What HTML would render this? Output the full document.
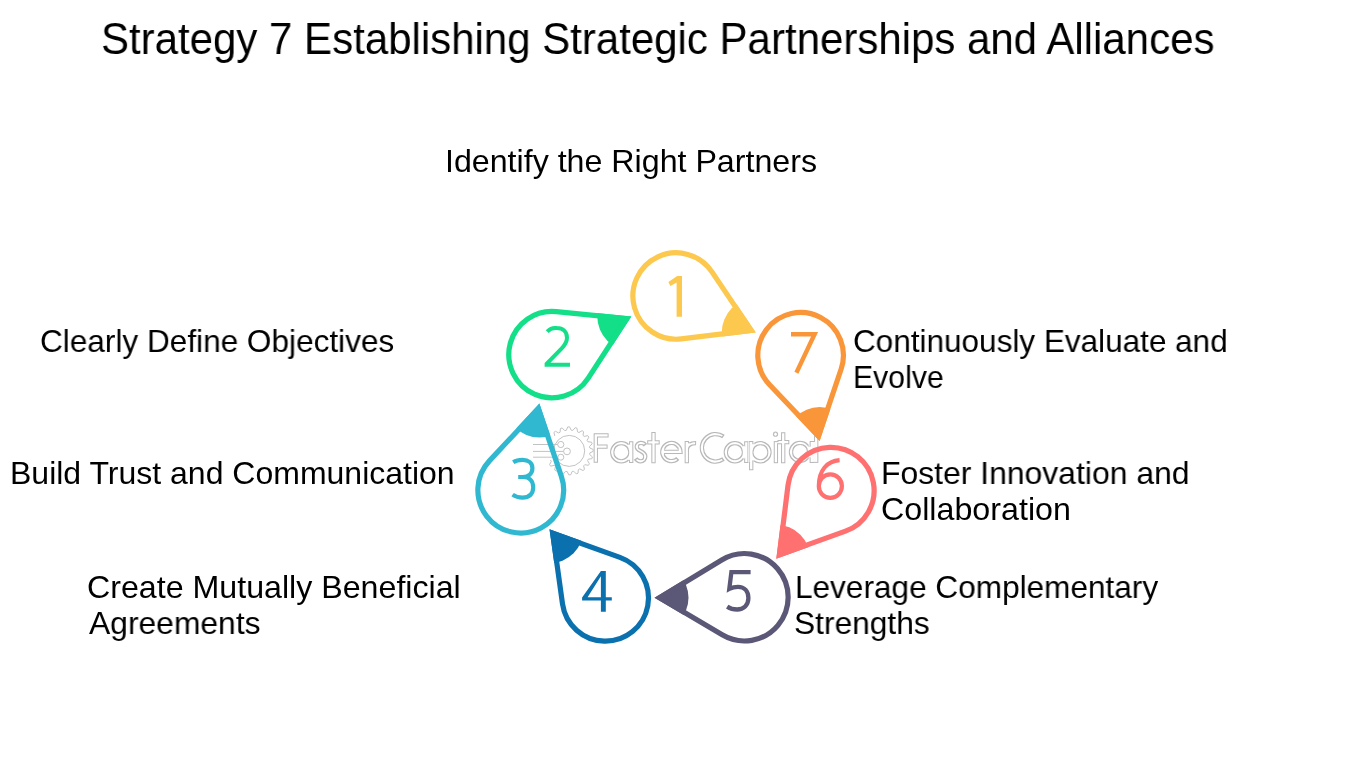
<!DOCTYPE html>
<html><head><meta charset="utf-8">
<style>
html,body{margin:0;padding:0;background:#fff;}
.t,.lb{will-change:transform;-webkit-font-smoothing:antialiased;}
body{width:1350px;height:759px;position:relative;overflow:hidden;font-family:"Liberation Sans",sans-serif;}
.t{position:absolute;left:101.0px;top:16.1px;font-size:45px;line-height:45px;white-space:nowrap;color:#000;transform-origin:0 0;transform:scaleX(0.9332);}
.lb{position:absolute;font-size:32px;line-height:36.768px;white-space:nowrap;color:#000;transform-origin:0 0;}
svg{position:absolute;left:0;top:0;}
</style></head><body>
<div class="t">Strategy 7 Establishing Strategic Partnerships and Alliances</div>
<div class="lb" style="left:444.98px;top:143.04px;transform:scaleX(1.0055)">Identify the Right Partners</div>
<div class="lb" style="left:40.43px;top:323.04px;transform:scaleX(0.9860)">Clearly Define Objectives</div>
<div class="lb" style="left:9.70px;top:455.04px;transform:scaleX(0.9989)">Build Trust and Communication</div>
<div class="lb" style="left:87.29px;top:568.74px;transform:scaleX(1.0054)">Create Mutually Beneficial</div>
<div class="lb" style="left:89.00px;top:604.84px;transform:scaleX(0.9942)">Agreements</div>
<div class="lb" style="left:794.64px;top:568.74px;transform:scaleX(0.9863)">Leverage Complementary</div>
<div class="lb" style="left:794.32px;top:604.74px;transform:scaleX(0.9903)">Strengths</div>
<div class="lb" style="left:880.91px;top:454.84px;transform:scaleX(0.9967)">Foster Innovation and</div>
<div class="lb" style="left:881.49px;top:490.84px;transform:scaleX(1.0070)">Collaboration</div>
<div class="lb" style="left:853.03px;top:322.74px;transform:scaleX(0.9841)">Continuously Evaluate and</div>
<div class="lb" style="left:852.67px;top:358.74px;transform:scaleX(0.9446)">Evolve</div>
<svg width="1350" height="759" viewBox="0 0 1350 759">
<defs><filter id="ol" x="-5%" y="-20%" width="110%" height="140%"><feMorphology operator="erode" radius="1" in="SourceAlpha" result="e"/><feComposite in="SourceGraphic" in2="e" operator="out"/></filter></defs>
<g filter="url(#ol)">
<g fill="none" stroke="#b8b8b8" stroke-width="4.3" stroke-linecap="butt">
<path d="M595.8,433.4 V462.8 M593.9,435.3 H608.6 M595.8,446.6 H607.6"/>
<path d="M630.4,452.2 A9.1,9.1 0 1 1 612.1999999999999,452.2 A9.1,9.1 0 1 1 630.4,452.2 M631.2,441.2 V463"/>
<path d="M645.4,445.2 C644.2,443.6 642.6,442.9 640.8,442.9 C638.3,442.9 636.7,444.6 636.7,446.7 C636.7,451.6 645.3,450.6 645.3,456.3 C645.3,459.3 643.2,461.3 640.6,461.3 C638.6,461.3 636.8,460.3 635.6,458.6"/>
<path d="M653.5,432.1 V463.2 M647.2,442.3 H659.7"/>
<path d="M662.3,451.8 H680.5 A9.1,9.1 0 1 0 677.8,458.5"/>
<path d="M686.8,441 V463.2 M686.8,449.5 C687.4,445 690.8,443 696.1,443.1"/>
<path d="M723.49,459.11 A13.75,13.75 0 1 1 723.49,436.59"/>
<path d="M744.0,452.2 A9.1,9.1 0 1 1 725.8,452.2 A9.1,9.1 0 1 1 744.0,452.2 M746.3,441.2 V463"/>
<path d="M769.5,452.2 A9.1,9.1 0 1 1 751.3,452.2 A9.1,9.1 0 1 1 769.5,452.2 M751.2,441 V470.3"/>
<path d="M775.9,441.1 V463.2"/>
<path d="M783.2,432.2 V463.2 M777.5,442.2 H789.3"/>
<path d="M809.15,451.9 A9.1,9.1 0 1 1 790.9499999999999,451.9 A9.1,9.1 0 1 1 809.15,451.9 M811.8,441 V463"/>
<path d="M816.2,432.2 V462.9"/>
</g>
<circle cx="775.5" cy="434.2" r="2.6" fill="#bdbdbd"/>
</g>
<g fill="none" stroke="#c2c2c2" stroke-width="1">
<path d="M554.75,435.94 L553.93,432.38 L555.43,431.24 L558.64,432.98 L560.08,432.21 L560.40,428.57 L562.18,427.95 L564.70,430.59 L566.31,430.30 L567.73,426.94 L569.62,426.90 L571.19,430.20 L572.81,430.42 L575.21,427.66 L577.01,428.21 L577.49,431.83 L578.97,432.53 L582.10,430.66 L583.64,431.73 L582.98,435.32 L584.16,436.45 L587.72,435.63 L588.86,437.13 L587.12,440.34 L587.89,441.78 L591.53,442.10 L592.15,443.88 L589.51,446.40 L589.80,448.01 L593.16,449.43 L593.20,451.32 L589.90,452.89 L589.68,454.51 L592.44,456.91 L591.89,458.71 L588.27,459.19 L587.57,460.67 L589.44,463.80 L588.37,465.34 L584.78,464.68 L583.65,465.86 L584.47,469.42 L582.97,470.56 L579.76,468.82 L578.32,469.59 L578.00,473.23 L576.22,473.85 L573.70,471.21 L572.09,471.50 L570.67,474.86 L568.78,474.90 L567.21,471.60 L565.59,471.38 L563.19,474.14 L561.39,473.59 L560.91,469.97 L559.43,469.27 L556.30,471.14 L554.76,470.07 L555.42,466.48 L554.24,465.35 L550.68,466.17 L549.54,464.67 L551.28,461.46 L550.51,460.02"/>
<circle cx="569.2" cy="450.9" r="15.5"/>
<circle cx="560.8" cy="444.5" r="3.1"/><circle cx="567" cy="451.4" r="3.4"/><circle cx="560.8" cy="457.2" r="3"/>
<path d="M533,444.5 H557.7 M533,451.4 H563.6 M533,457.2 H557.8"/>
</g>
<clipPath id="c1"><path d="M755.75,332.40 L681.66,341.46 A45.80,45.80 0 1 1 714.11,270.45 Z"/></clipPath>
<circle cx="755.75" cy="332.40" r="34.0" fill="#FCC84E" clip-path="url(#c1)"/>
<path d="M751.23,330.33 L681.34,338.88 A43.20,43.20 0 1 1 711.95,271.90 Z" fill="none" stroke="#FCC84E" stroke-width="5.2" stroke-linejoin="miter" stroke-miterlimit="10"/>
<clipPath id="c2"><path d="M631.30,316.60 L590.41,379.55 A45.80,45.80 0 1 1 556.62,309.03 Z"/></clipPath>
<circle cx="631.30" cy="316.60" r="34.0" fill="#12DF88" clip-path="url(#c2)"/>
<path d="M626.80,318.76 L588.23,378.13 A43.20,43.20 0 1 1 556.35,311.62 Z" fill="none" stroke="#12DF88" stroke-width="5.2" stroke-linejoin="miter" stroke-miterlimit="10"/>
<clipPath id="c3"><path d="M539.40,403.50 L563.84,475.53 A45.50,45.50 0 1 1 487.49,459.10 Z"/></clipPath>
<circle cx="539.40" cy="403.50" r="34.0" fill="#30B8D0" clip-path="url(#c3)"/>
<path d="M538.33,408.45 L561.38,476.37 A42.90,42.90 0 1 1 489.39,460.87 Z" fill="none" stroke="#30B8D0" stroke-width="5.2" stroke-linejoin="miter" stroke-miterlimit="10"/>
<clipPath id="c4"><path d="M549.50,529.30 L620.78,554.89 A45.80,45.80 0 1 1 559.94,604.31 Z"/></clipPath>
<circle cx="549.50" cy="529.30" r="34.0" fill="#0B70AE" clip-path="url(#c4)"/>
<path d="M552.67,533.20 L619.90,557.34 A43.20,43.20 0 1 1 562.51,603.95 Z" fill="none" stroke="#0B70AE" stroke-width="5.2" stroke-linejoin="miter" stroke-miterlimit="10"/>
<clipPath id="c5"><path d="M654.50,597.80 L720.38,557.70 A46.30,46.30 0 1 1 720.86,637.09 Z"/></clipPath>
<circle cx="654.50" cy="597.80" r="34.0" fill="#5B5777" clip-path="url(#c5)"/>
<path d="M659.55,597.77 L721.73,559.92 A43.70,43.70 0 1 1 722.19,634.85 Z" fill="none" stroke="#5B5777" stroke-width="5.2" stroke-linejoin="miter" stroke-miterlimit="10"/>
<clipPath id="c6"><path d="M776.30,558.70 L785.45,484.87 A45.80,45.80 0 1 1 846.34,533.62 Z"/></clipPath>
<circle cx="776.30" cy="558.70" r="34.0" fill="#FF7070" clip-path="url(#c6)"/>
<path d="M779.40,554.83 L788.03,485.19 A43.20,43.20 0 1 1 845.46,531.17 Z" fill="none" stroke="#FF7070" stroke-width="5.2" stroke-linejoin="miter" stroke-miterlimit="10"/>
<clipPath id="c7"><path d="M819.60,441.10 L767.72,386.60 A45.40,45.40 0 1 1 843.62,369.80 Z"/></clipPath>
<circle cx="819.60" cy="441.10" r="34.0" fill="#FA963A" clip-path="url(#c7)"/>
<path d="M818.51,436.19 L769.60,384.81 A42.80,42.80 0 1 1 841.16,368.97 Z" fill="none" stroke="#FA963A" stroke-width="5.2" stroke-linejoin="miter" stroke-miterlimit="10"/>
<path d="M682.0,276.0 V316.8 H676.6 V282.6 L670.4,286.0 L668.4,281.9 L677.2,276.0 Z" fill="#FCC84E" fill-rule="evenodd"/>
<path d="M547.2,331.6 C550,328.6 553.2,327.6 556.8,328.1 C563,328.1 567,332.1 567,337.8 C567,341.8 565,345 561.5,348.6 L546.6,363.8 V364.8 H570" fill="none" stroke="#12DF88" stroke-width="4.0" stroke-linejoin="miter"/>
<path d="M513.2,462.2 C516,460.4 519.2,459.9 522.6,459.9 C528.4,459.9 532.4,463 532.4,468.2 C532.4,473.6 528.6,477 522.6,477 H518.2 H523.2 C529.6,477 533.2,481.4 533.2,487.6 C533.2,494.2 528.8,497.6 522.6,497.6 C518.6,497.6 515.4,496.6 512.6,494.6" fill="none" stroke="#30B8D0" stroke-width="4.2" stroke-linejoin="miter"/>
<path d="M600.9,570.9 H605.8 V597.2 H611.8 V600.6 H605.8 V611.8 H600.9 V600.6 H582.1 V597.4 Z M600.9,576.3 L587.6,597.2 H600.9 Z" fill="#0B70AE" fill-rule="evenodd"/>
<path d="M750.6,572.1 H731.4 L729.3,588.9 C732.2,587.4 734.8,586.8 738,586.8 C744.6,586.8 748.4,591.6 748.4,598.1 C748.4,605.1 743.6,609.5 737.1,609.5 C733.4,609.5 730.2,608.6 727.2,606.6" fill="none" stroke="#5B5777" stroke-width="4.3" stroke-linejoin="miter"/>
<path d="M839.6,460.2 C827.2,461.2 818.8,470 818.8,486.1 C818.8,492.62 823.97,497.9 830.35,497.9 C836.73,497.9 841.9,492.62 841.9,486.1 C841.9,479.58 836.73,474.3 830.35,474.3 C823.97,474.3 818.8,479.58 818.8,486.1" fill="none" stroke="#FF7070" stroke-width="4.2" stroke-linejoin="miter"/>
<path d="M791,334.2 H814.6 L796.4,372.8" fill="none" stroke="#FA963A" stroke-width="4.4" stroke-linejoin="miter"/>
</svg>
</body></html>
